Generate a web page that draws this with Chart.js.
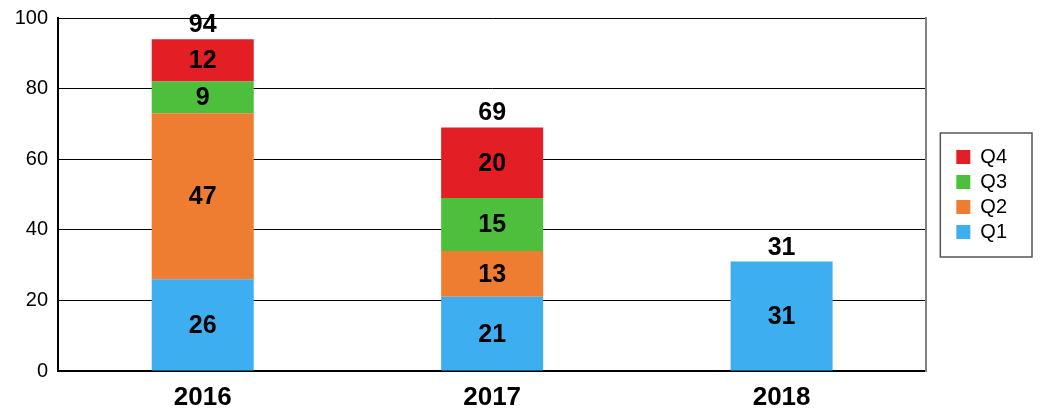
<!DOCTYPE html>
<html>
<head>
<meta charset="utf-8">
<script src="https://cdn.jsdelivr.net/npm/chart.js@4"></script>
<style>
  html, body { margin: 0; padding: 0; background: #fff; }
  #wrap { width: 1042px; height: 410px; }
</style>
</head>
<body>
<div id="wrap"><canvas id="c" width="1042" height="410"></canvas></div>
<script>
const years = ['2016', '2017', '2018'];
const q1 = [26, 21, 31];
const q2 = [47, 13, null];
const q3 = [9, 15, null];
const q4 = [12, 20, null];
const yTicks = [0, 20, 40, 60, 80, 100];

const FONT = '"Liberation Sans", Arial, sans-serif';

// 棒の中の値と積み上げ合計を描く
const barLabels = {
  id: 'barLabels',
  afterDatasetsDraw(chart) {
    const ctx = chart.ctx;
    ctx.save();
    ctx.font = 'bold 25px ' + FONT;
    ctx.fillStyle = '#000';
    ctx.textAlign = 'center';
    const tops = {};
    const totals = {};
    chart.data.datasets.forEach((ds, di) => {
      const meta = chart.getDatasetMeta(di);
      meta.data.forEach((el, i) => {
        const v = ds.data[i];
        if (v == null) return;
        ctx.textBaseline = 'middle';
        ctx.fillText(String(v), el.x, (el.y + el.base) / 2 + 1);
        totals[i] = (totals[i] || 0) + v;
        tops[i] = tops[i] == null ? el.y : Math.min(tops[i], el.y);
      });
    });
    ctx.textBaseline = 'alphabetic';
    Object.keys(totals).forEach(i => {
      const el = chart.getDatasetMeta(0).data[i];
      ctx.fillText(String(totals[i]), el.x, tops[i] - 7);
    });
    ctx.restore();
  },
  afterDraw(chart) {
    const ctx = chart.ctx;
    // 凡例の枠
    const boxes = chart.legend.legendHitBoxes;
    if (!boxes || !boxes.length) return;
    const l = Math.min(...boxes.map(b => b.left));
    const t = Math.min(...boxes.map(b => b.top));
    const r = Math.max(...boxes.map(b => b.left + b.width));
    const btm = Math.max(...boxes.map(b => b.top + b.height));
    ctx.save();
    ctx.strokeStyle = '#555';
    ctx.lineWidth = 1.5;
    ctx.strokeRect(l - 16, t - 14, (r - l) + 41, (btm - t) + 29);
    ctx.restore();
  }
};

new Chart(document.getElementById('c').getContext('2d'), {
  type: 'bar',
  data: {
    labels: years,
    datasets: [
      { label: 'Q1', data: q1, backgroundColor: '#3daef0' },
      { label: 'Q2', data: q2, backgroundColor: '#ee7d32' },
      { label: 'Q3', data: q3, backgroundColor: '#4dbf3c' },
      { label: 'Q4', data: q4, backgroundColor: '#e31e24' }
    ]
  },
  options: {
    responsive: false, animation: false,
    layout: { padding: { top: 18, right: 25, left: 4, bottom: 0 } },
    datasets: { bar: { categoryPercentage: 1, barPercentage: 0.3525 } },
    plugins: {
      legend: {
        position: 'right', reverse: true, fullSize: false,
        labels: { boxWidth: 14, boxHeight: 14, padding: 5, color: '#000', font: { family: FONT, size: 20 } }
      },
      tooltip: { enabled: false }
    },
    scales: {
      x: {
        stacked: true,
        grid: { display: false, drawTicks: false },
        border: { color: '#000', width: 2 },
        afterFit: s => { s.height = 39; },
        ticks: { color: '#000', padding: 11, font: { family: FONT, size: 26, weight: 'bold' } }
      },
      y: {
        stacked: true, min: 0, max: 100,
        afterBuildTicks: s => { s.ticks = yTicks.map(v => ({ value: v })); },
        afterFit: s => { s.width = 54; s.paddingTop = 0; s.paddingBottom = 0; },
        grid: { color: '#000', lineWidth: 1, drawTicks: false },
        border: { color: '#000', width: 2 },
        ticks: { color: '#000', padding: 10, font: { family: FONT, size: 20 } }
      },
      // 右側の枠線と凡例までの余白
      yRight: {
        position: 'right', min: 0, max: 100,
        grid: { display: false, drawTicks: false },
        border: { color: '#808080', width: 2 },
        ticks: { display: false },
        afterFit: s => { s.width = 25; }
      }
    }
  },
  plugins: [barLabels]
});
</script>
</body>
</html>
